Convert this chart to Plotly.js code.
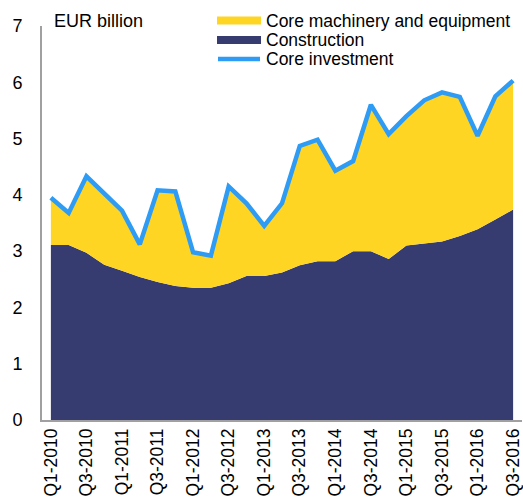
<!DOCTYPE html>
<html>
<head>
<meta charset="utf-8">
<script src="https://cdn.plot.ly/plotly-3.0.1.min.js"></script>
<style>html,body{margin:0;padding:0;background:#fff;}#chart{width:523px;height:502px;}</style>
</head>
<body>
<div id="chart"></div>
<script>
const quarters = ["Q1-2010","Q2-2010","Q3-2010","Q4-2010","Q1-2011","Q2-2011","Q3-2011","Q4-2011",
  "Q1-2012","Q2-2012","Q3-2012","Q4-2012","Q1-2013","Q2-2013","Q3-2013","Q4-2013",
  "Q1-2014","Q2-2014","Q3-2014","Q4-2014","Q1-2015","Q2-2015","Q3-2015","Q4-2015",
  "Q1-2016","Q2-2016","Q3-2016"];
const construction = [3.11,3.11,2.97,2.76,2.65,2.54,2.45,2.38,2.35,2.35,2.43,2.56,2.56,2.62,2.75,2.82,
  2.82,3.00,3.00,2.86,3.10,3.13,3.17,3.27,3.39,3.56,3.74];
const machinery = [0.84,0.57,1.36,1.26,1.07,0.58,1.63,1.68,0.63,0.57,1.72,1.29,0.89,1.23,2.12,2.16,
  1.61,1.60,2.60,2.22,2.30,2.55,2.65,2.47,1.66,2.19,2.29];
const coreInvestment = [3.95,3.68,4.33,4.02,3.72,3.12,4.08,4.06,2.98,2.92,4.15,3.85,3.45,3.85,4.87,4.98,
  4.43,4.60,5.60,5.08,5.40,5.68,5.82,5.74,5.05,5.75,6.03];
const tickLabels = quarters.filter((q, i) => i % 2 === 0);
const legendNames = ["Core machinery and equipment", "Construction", "Core investment"];

const colYellow = "#FFD524", colNavy = "#363B70", colBlue = "#2E9BF5";
const font = "Arial, 'Liberation Sans', sans-serif";

const traces = [
  {x: quarters, y: construction, type: "scatter", mode: "lines", stackgroup: "one",
   line: {width: 0, color: colNavy}, fillcolor: colNavy, name: legendNames[1], hoverinfo: "y"},
  {x: quarters, y: machinery, type: "scatter", mode: "lines", stackgroup: "one",
   line: {width: 0, color: colYellow}, fillcolor: colYellow, name: legendNames[0], hoverinfo: "y"},
  {x: quarters, y: coreInvestment, type: "scatter", mode: "lines",
   line: {width: 4.5, color: colBlue}, name: legendNames[2]}
];

const W = 523, H = 502, ml = 42, mr = 1, mt = 26, mb = 82;
function px(x) { return (x - ml) / (W - ml - mr); }
function py(y) { return (H - mb - y) / (H - mt - mb); }
const rows = [20.5, 40, 59];
const shapes = [
  {type: "rect", xref: "paper", yref: "paper", x0: px(217), x1: px(261), y0: py(rows[0] + 4), y1: py(rows[0] - 4),
   fillcolor: colYellow, line: {width: 0}},
  {type: "rect", xref: "paper", yref: "paper", x0: px(217), x1: px(261), y0: py(rows[1] + 4), y1: py(rows[1] - 4),
   fillcolor: colNavy, line: {width: 0}},
  {type: "line", xref: "paper", yref: "paper", x0: px(218), x1: px(260), y0: py(rows[2]), y1: py(rows[2]),
   line: {color: colBlue, width: 4.5}}
];

const legFont = {family: font, size: 17.5, color: "#000"};
const annotations = [
  {text: "EUR billion", xref: "paper", yref: "paper", x: px(52), y: py(20.5), xanchor: "left", yanchor: "middle",
   showarrow: false, font: {family: font, size: 18, color: "#000"}},
  {text: legendNames[0], xref: "paper", yref: "paper", x: px(264), y: py(rows[0]), xanchor: "left", yanchor: "middle",
   showarrow: false, font: legFont},
  {text: legendNames[1], xref: "paper", yref: "paper", x: px(264), y: py(rows[1]), xanchor: "left", yanchor: "middle",
   showarrow: false, font: legFont},
  {text: legendNames[2], xref: "paper", yref: "paper", x: px(264), y: py(rows[2]), xanchor: "left", yanchor: "middle",
   showarrow: false, font: legFont}
];

const layout = {
  width: W, height: H,
  margin: {l: ml, r: mr, t: mt, b: mb, pad: 0},
  paper_bgcolor: "#fff", plot_bgcolor: "#fff",
  showlegend: false,
  font: {family: font, size: 18, color: "#000"},
  xaxis: {type: "category", categoryorder: "array", categoryarray: quarters,
    range: [-0.5, 26.5], tickmode: "array", tickvals: tickLabels, ticktext: tickLabels,
    tickangle: -90, showgrid: false, zeroline: false, showline: true, linecolor: "#A0A0A0", linewidth: 1.5,
    ticks: "", tickfont: {family: font, size: 17.5, color: "#000"}},
  yaxis: {range: [0, 7], dtick: 1, tick0: 0, showgrid: false, zeroline: false, showline: true,
    linecolor: "#A0A0A0", linewidth: 2, ticks: "",
    ticklabelstandoff: 14, tickfont: {family: font, size: 18, color: "#000"}},
  shapes: shapes,
  annotations: annotations
};

Plotly.newPlot("chart", traces, layout, {displayModeBar: false, staticPlot: true});
</script>
</body>
</html>
